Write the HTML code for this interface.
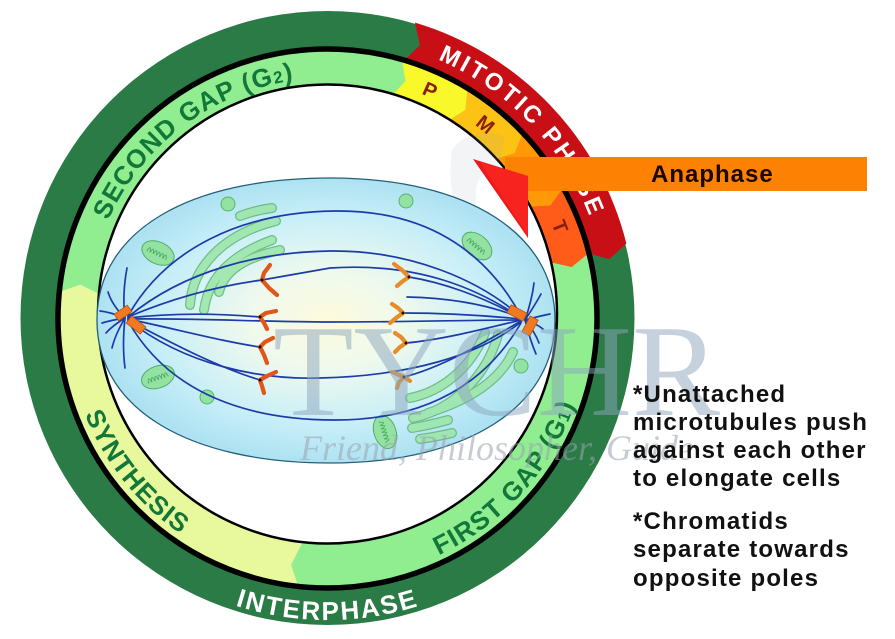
<!DOCTYPE html>
<html>
<head>
<meta charset="utf-8">
<style>
  html,body{margin:0;padding:0;background:#fff;}
  svg{display:block;}
  .b{font-family:"Liberation Sans",Arial,sans-serif;font-weight:bold;}
</style>
</head>
<body>
<svg width="895" height="639" viewBox="0 0 895 639" xmlns="http://www.w3.org/2000/svg">
<defs>
  <radialGradient id="cellg" cx="50%" cy="50%" r="50%">
    <stop offset="0" stop-color="#fdfbdc"/>
    <stop offset="0.35" stop-color="#eef9ee"/>
    <stop offset="0.75" stop-color="#c6eef8"/>
    <stop offset="1" stop-color="#aee2f2"/>
  </radialGradient>
  <path id="pG2" d="M113.66,426.96 A240,240 0 0 1 491.18,142.48"/>
  <path id="pMit" d="M171.18,84.49 A281,281 0 0 1 554.26,483.96"/>
  <path id="pLet" d="M99.15,234.89 A243,243 0 0 1 570.5,318"/>
  <path id="pSyn" d="M131.12,146.08 A261,261 0 0 0 453.24,546.72"/>
  <path id="pG1" d="M188.66,540.19 A262,262 0 0 0 533.96,156.70"/>
  <path id="pInt" d="M30.09,370.44 A302,302 0 0 0 624.91,370.44"/>
  <g id="mito">
    <ellipse cx="0" cy="0" rx="17" ry="11" fill="#93e2a2" stroke="#4fae66" stroke-width="1"/>
    <path d="M-11,3 q1.5,-9 3.5,0 q1.5,-9 3.5,0 q1.5,-9 3.5,0 q1.5,-9 3.5,0 q1.5,-9 3.5,0 q1.5,-9 3.5,0" fill="none" stroke="#4fae66" stroke-width="1"/>
  </g>
</defs>

<!-- RING -->
<circle cx="327.5" cy="318" r="307" fill="#2b7b47"/>
<path d="M414.98,22.68 A308,308 0 0 1 626.35,243.49 L609.41,259.10 L587.54,253.17 A268,268 0 0 0 403.62,61.04 L419.84,45.20 Z" fill="#c90f16"/>
<circle cx="327.5" cy="318" r="268" fill="#90ee90"/>
<path d="M298.34,586.42 A270,270 0 0 1 58.74,292.12 L80.25,284.57 L104.53,296.53 A224,224 0 0 0 303.31,540.69 L291.05,564.82 Z" fill="#e7f99c"/>
<path d="M401.92,58.46 A270,270 0 0 1 467.77,87.30 L465.21,109.94 L446.99,121.47 A230,230 0 0 0 390.90,96.91 L405.43,80.98 Z" fill="#f8f82a"/>
<path d="M467.77,87.30 A270,270 0 0 1 523.03,131.80 L514.65,153.00 L494.06,159.39 A230,230 0 0 0 446.99,121.47 L465.21,109.94 Z" fill="#fcc214"/>
<path d="M523.03,131.80 A270,270 0 0 1 563.65,187.10 L550.20,205.51 L528.66,206.49 A230,230 0 0 0 494.06,159.39 L514.65,153.00 Z" fill="#ff9a06"/>
<path d="M563.65,187.10 A270,270 0 0 1 589.48,252.68 L571.73,266.98 L550.67,262.36 A230,230 0 0 0 528.66,206.49 L550.20,205.51 Z" fill="#ff5c1a"/>
<circle cx="327.5" cy="318.5" r="269.5" fill="none" stroke="#000" stroke-width="5.5"/>
<circle cx="327.5" cy="314" r="229.5" fill="#fff" stroke="#000" stroke-width="2.5"/>

<!-- faint logo watermark -->
<path d="M452,150 C465,132 490,128 505,138 L498,170 C490,168 478,175 476,190 C474,215 485,235 505,250 L490,258 C462,240 445,195 452,150 Z" fill="#9aa8b6" opacity="0.12"/>

<!-- CELL -->
<path d="M97,320 C97,230 190,178 330,178 C470,178 555,235 555,320 C555,405 470,463 330,463 C190,463 97,410 97,320 Z" fill="url(#cellg)" stroke="#22607a" stroke-width="1.3"/>

<!-- Organelles -->
<g fill="#93e2a2" stroke="#58b470" stroke-width="1">
  <circle cx="228" cy="204" r="7"/>
  <circle cx="207" cy="397" r="7"/>
  <circle cx="406" cy="201" r="7"/>
  <circle cx="521" cy="366" r="7"/>
</g>
<use href="#mito" transform="translate(158,253) rotate(25)"/>
<use href="#mito" transform="translate(158,377) rotate(-20)"/>
<use href="#mito" transform="translate(477,246) rotate(40)"/>
<use href="#mito" transform="translate(385,432) rotate(72)"/>
<g fill="none" stroke-linecap="round" opacity="0.9">
  <g stroke="#62ba7c" stroke-width="10">
    <path d="M240,216 Q256,210 272,208"/>
    <path d="M190,305 C192,270 220,235 276,221"/>
    <path d="M204,310 C208,280 228,256 272,240"/>
    <path d="M219,292 C224,272 242,258 280,250"/>
    <path d="M410,398 C440,392 470,370 485,333"/>
    <path d="M413,418 C450,410 485,380 498,335"/>
    <path d="M428,413 C470,400 500,380 513,352"/>
    <path d="M412,428 Q430,425 448,420"/>
    <path d="M420,439 Q435,437 452,433"/>
  </g>
  <g stroke="#9ee6ab" stroke-width="7.5">
    <path d="M240,216 Q256,210 272,208"/>
    <path d="M190,305 C192,270 220,235 276,221"/>
    <path d="M204,310 C208,280 228,256 272,240"/>
    <path d="M219,292 C224,272 242,258 280,250"/>
    <path d="M410,398 C440,392 470,370 485,333"/>
    <path d="M413,418 C450,410 485,380 498,335"/>
    <path d="M428,413 C470,400 500,380 513,352"/>
    <path d="M412,428 Q430,425 448,420"/>
    <path d="M420,439 Q435,437 452,433"/>
  </g>
</g>

<!-- Microtubules -->
<g fill="none" stroke="#1d3ba8" stroke-width="1.7" stroke-linecap="round">
  <path d="M128,316 C165,250 240,212 335,211 C425,210 485,250 521,316"/>
  <path d="M128,317 C185,270 260,252 330,251 C410,250 480,280 521,317"/>
  <path d="M128,319 C200,318 260,322 330,322 C410,322 470,320 521,320"/>
  <path d="M128,320 C185,365 260,380 320,378 C410,376 480,355 521,322"/>
  <path d="M128,321 C170,395 250,420 335,420 C425,420 485,385 521,323"/>
  <path d="M128,317 C180,295 225,285 262,280 L330,268 C420,262 480,290 521,318"/>
  <path d="M128,318 C180,312 225,314 260,317"/>
  <path d="M128,319 C180,330 225,342 260,347"/>
  <path d="M128,320 C175,345 220,368 260,380"/>
  <path d="M521,318 C480,295 440,282 409,277"/>
  <path d="M521,319 C480,315 440,313 403,313"/>
  <path d="M521,320 C480,330 440,340 406,343"/>
  <path d="M521,321 C480,345 440,368 404,377"/>
  <path d="M407,297 C450,298 490,305 521,318"/>
  <path d="M125,318 Q122,295 127,268"/>
  <path d="M125,318 Q112,305 108,292"/>
  <path d="M125,318 Q110,312 100,311"/>
  <path d="M125,318 Q112,320 102,323"/>
  <path d="M125,318 Q112,326 106,333"/>
  <path d="M125,318 Q115,335 112,348"/>
  <path d="M125,318 Q122,345 125,368"/>
  <path d="M525,320 Q532,300 534,283"/>
  <path d="M525,320 Q535,305 541,294"/>
  <path d="M525,320 Q540,316 550,314"/>
  <path d="M525,320 Q537,324 543,329"/>
  <path d="M525,320 Q535,332 539,343"/>
  <path d="M525,320 Q530,340 536,354"/>
</g>

<!-- Chromosomes -->
<g fill="none" stroke-linecap="round" stroke-linejoin="round" stroke-width="4.2">
  <g stroke="#e2561a">
    <path d="M270,265 L264,273 L262,280 L269,288 L277,295"/>
    <path d="M276,311 L266,313 L260,317 L264,323 L267,329"/>
    <path d="M273,338 L265,342 L260,347 L264,355 L267,363"/>
    <path d="M276,372 L267,376 L260,380 L262,386 L264,393"/>
  </g>
  <g stroke="#e88c2a">
    <path d="M394,264 L402,270 L409,277 L403,281 L397,286"/>
    <path d="M392,304 L398,308 L403,313 L396,318 L390,323"/>
    <path d="M395,333 L401,337 L406,343 L400,347 L395,352"/>
    <path d="M392,372 L399,375 L404,377 L399,382 L397,388 M404,377 L410,381"/>
  </g>
</g>
<g fill="#111">
  <circle cx="262" cy="280" r="1.5"/><circle cx="260" cy="317" r="1.5"/>
  <circle cx="260" cy="347" r="1.5"/><circle cx="260" cy="380" r="1.5"/>
  <circle cx="409" cy="277" r="1.5"/><circle cx="403" cy="313" r="1.5"/>
  <circle cx="406" cy="343" r="1.5"/><circle cx="404" cy="377" r="1.5"/>
</g>

<!-- Centrosomes -->
<g fill="#f07a22" stroke="#b8500e" stroke-width="0.8">
  <rect x="-8" y="-4" width="16" height="8" transform="translate(123,313) rotate(-35)"/>
  <rect x="-9" y="-4.5" width="18" height="9" transform="translate(136,325) rotate(38)"/>
  <rect x="-9" y="-4.5" width="18" height="9" transform="translate(517,313) rotate(28)"/>
  <rect x="-9" y="-4.5" width="18" height="9" transform="translate(530,326) rotate(-62)"/>
</g>

<!-- Ring texts -->
<text class="b" font-size="26" fill="#13773a" letter-spacing="1" text-anchor="middle"><textPath href="#pG2" startOffset="50%">SECOND GAP (G<tspan font-size="17">2</tspan>)</textPath></text>
<text class="b" font-size="26" fill="#13773a" letter-spacing="1" text-anchor="middle"><textPath href="#pSyn" startOffset="50%">SYNTHESIS</textPath></text>
<text class="b" font-size="26" fill="#13773a" letter-spacing="1.2" text-anchor="middle"><textPath href="#pG1" startOffset="50%">FIRST GAP (G<tspan font-size="17">1</tspan>)</textPath></text>
<text class="b" font-size="26" fill="#ffffff" letter-spacing="2" text-anchor="middle"><textPath href="#pInt" startOffset="50%">INTERPHASE</textPath></text>
<text class="b" font-size="24" fill="#ffffff" letter-spacing="3" text-anchor="middle"><textPath href="#pMit" startOffset="50%">MITOTIC PHASE</textPath></text>
<g class="b" font-size="20" fill="#8a1f0e" text-anchor="middle">
  <text><textPath href="#pLet" startOffset="399.5">P</textPath></text>
  <text><textPath href="#pLet" startOffset="463.1">M</textPath></text>
  <text><textPath href="#pLet" startOffset="524.6">A</textPath></text>
  <text><textPath href="#pLet" startOffset="587.4">T</textPath></text>
</g>

<!-- Watermark -->
<text x="273" y="415" font-family="'Liberation Serif',serif" font-size="131" fill="#8ca5bd" opacity="0.5" textLength="447" lengthAdjust="spacingAndGlyphs">TYCHR</text>
<text x="300" y="460" font-family="'Liberation Serif',serif" font-style="italic" font-size="36" fill="#9aa4ae" opacity="0.55">Friend, Philosopher, Guide</text>

<!-- Anaphase callout -->
<rect x="505" y="157" width="362" height="34" fill="#fd8204"/>
<polygon points="473,159 528,176 528,238" fill="#ec1a1a"/>
<polygon points="480,162 528,176 528,236" fill="#ff2a22" opacity="0.6"/>
<text x="651" y="182" class="b" font-size="24" letter-spacing="1" fill="#1a0800">Anaphase</text>

<!-- Right notes -->
<g class="b" font-size="24" letter-spacing="1.2" fill="#111">
  <text x="633" y="402">*Unattached</text>
  <text x="633" y="430">microtubules push</text>
  <text x="633" y="458">against each other</text>
  <text x="633" y="486">to elongate cells</text>
  <text x="633" y="529">*Chromatids</text>
  <text x="633" y="557">separate towards</text>
  <text x="633" y="586">opposite poles</text>
</g>
</svg>
</body>
</html>
